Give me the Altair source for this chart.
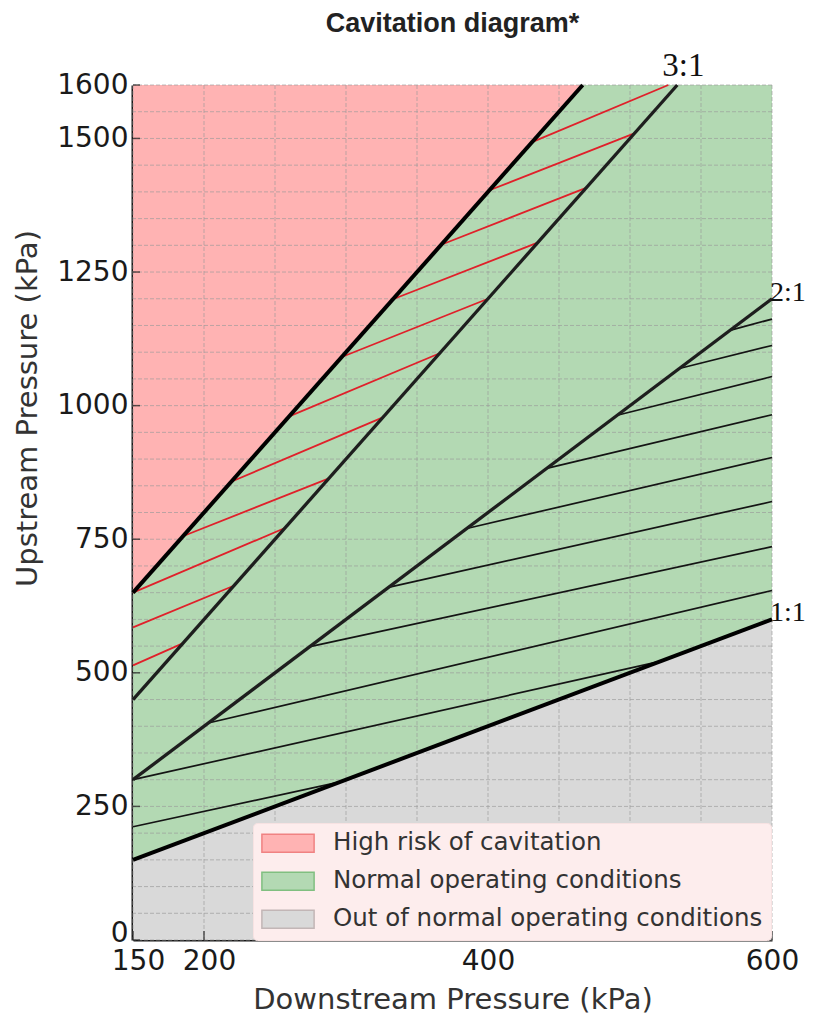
import altair as alt
import pandas as pd

# ---------------- data ----------------
x_domain = [150, 600]
y_domain = [0, 1600]

x_grid = list(range(150, 601, 50))
y_grid = list(range(0, 1601, 50))
x_labels = [150, 200, 400, 600]
x_minor = [v for v in x_grid if v not in x_labels]
y_labels = [0, 250, 500, 750, 1000, 1250, 1500, 1600]

region_names = ["High risk of cavitation", "Normal operating conditions",
                "Out of normal operating conditions"]
region_fill = ["#ffb3b3", "#b3d9b3", "#d9d9d9"]
legend_edge = ["#f08282", "#80bf80", "#c2b6b6"]

# region polygons (x, lower y, upper y)
red_x = [150, 466.7]
red_lo = [650, 1600]
red_hi = [1600, 1600]
green_x = [150, 466.7, 600]
green_lo = [150, 466.7, 600]
green_hi = [650, 1600, 1600]
gray_x = [150, 600]
gray_lo = [0, 0]
gray_hi = [150, 600]

# heavy black boundaries: cavitation limit, 1:1
bound_x0 = [150, 150]
bound_y0 = [650, 150]
bound_x1 = [466.7, 600]
bound_y1 = [1600, 600]

# ratio lines 3:1, 2:1
ratio_x0 = [150, 150]
ratio_y0 = [450, 300]
ratio_x1 = [533.3, 600]
ratio_y1 = [1600, 1200]

# red hatch lines
red_hx0 = [150, 150, 150, 185.5, 219.5, 260, 297, 333, 367, 401, 431]
red_hy0 = [514, 585, 650, 756, 858, 980, 1091, 1199, 1301, 1403, 1493]
red_hx1 = [185, 221, 257, 288, 326, 366, 400, 435, 469.5, 503.5, 527]
red_hy1 = [555, 663, 771, 864, 978, 1098, 1200, 1305, 1408, 1510, 1600]

# black hatch lines
blk_hx0 = [150, 150, 203, 274.6, 329.8, 385, 441.3, 491, 534.7, 570.4]
blk_hy0 = [212, 300, 406, 549, 660, 770, 882.6, 982, 1069.4, 1140.8]
blk_hx1 = [296, 522, 600, 600, 600, 600, 600, 600, 600, 600]
blk_hy1 = [296, 522, 654, 736, 820.5, 903, 983, 1054.5, 1112.5, 1162]

ratio_top_label = ["3:1"]
ratio_top_x = [533.3]
ratio_top_y = [1600]
ratio_side_label = ["2:1", "1:1"]
ratio_side_x = [600, 600]
ratio_side_y = [1200, 600]

# ---------------- tables ----------------
areas = pd.concat([
    pd.DataFrame({"x": red_x, "lo": red_lo, "hi": red_hi, "region": region_names[0]}),
    pd.DataFrame({"x": green_x, "lo": green_lo, "hi": green_hi, "region": region_names[1]}),
    pd.DataFrame({"x": gray_x, "lo": gray_lo, "hi": gray_hi, "region": region_names[2]}),
], ignore_index=True)

def seg(x0, y0, x1, y1):
    return pd.DataFrame({"x0": x0, "y0": y0, "x1": x1, "y1": y1})

xs = alt.Scale(domain=x_domain, nice=False, zero=False)
ys = alt.Scale(domain=y_domain, nice=False, zero=False)

label_expr = "indexof([" + ",".join(str(v) for v in x_labels) + "], datum.value) >= 0 ? datum.label : ''"

x_axis = alt.Axis(values=x_grid, labelExpr=label_expr, ticks=False, grid=False,
                  domainColor="#1a1a1a", domainWidth=2, labelFont="DejaVu Sans",
                  labelFontSize=28, labelColor="#1a1a1a", labelPadding=7,
                  labelOffset={"condition": {"test": "datum.value < 300", "value": 5}, "value": 0},
                  labelOverlap=False, labelFlush=False,
                  title="Downstream Pressure (kPa)", titleFont="DejaVu Sans",
                  titleFontSize=29, titleFontWeight="normal", titleColor="#333333",
                  titleBaseline="alphabetic", titleY=68)
y_axis = alt.Axis(values=y_labels, format="d", ticks=False, grid=False,
                  domainColor="#1a1a1a", domainWidth=4, labelFont="DejaVu Sans",
                  labelFontSize=28, labelColor="#1a1a1a", labelPadding=5,
                  labelOffset={"condition": {"test": "datum.value == 0", "value": -7}, "value": 0},
                  labelOverlap=False, labelFlush=False,
                  title="Upstream Pressure (kPa)", titleFont="DejaVu Sans",
                  titleFontSize=29, titleFontWeight="normal", titleColor="#333333",
                  titleBaseline="alphabetic", titleX=-97, titleY=323, titleAngle=270)

fill_scale = alt.Scale(domain=region_names, range=region_fill)
edge_scale = alt.Scale(domain=region_names, range=legend_edge)

legend = alt.Legend(title=None, orient="none", legendX=120, legendY=738,
                    fillColor="#fdeded", strokeColor="#f7e2e2", cornerRadius=4,
                    padding=8, rowPadding=12,
                    labelFont="DejaVu Sans", labelFontSize=24.5, labelColor="#333333",
                    labelLimit=600,
                    symbolType="M-2.9,-1H2.9V1H-2.9Z", symbolSize=324,
                    symbolStrokeWidth=1.5, symbolOffset=14.75, labelOffset=32.75, zindex=1)

legend_layer = alt.Chart(areas).transform_filter("false").mark_square(
    filled=True, strokeWidth=1.5, opacity=1).encode(
    x=alt.X("x:Q", scale=xs, axis=x_axis),
    y=alt.Y("lo:Q", scale=ys, axis=y_axis),
    fill=alt.Fill("region:N", scale=fill_scale, legend=legend),
    stroke=alt.Stroke("region:N", scale=edge_scale, legend=legend),
)

area_layer = alt.Chart(areas).mark_area(opacity=1).encode(
    x="x:Q",
    y="lo:Q",
    y2="hi:Q",
    fill=alt.Fill("region:N", scale=fill_scale, legend=legend),
    detail="region:N",
)

gx = alt.Chart(pd.DataFrame({"v": x_grid})).mark_rule(
    color="#9a9a9a", strokeWidth=1, strokeDash=[4, 2], opacity=0.65).encode(x="v:Q")
gy = alt.Chart(pd.DataFrame({"v": y_grid})).mark_rule(
    color="#9a9a9a", strokeWidth=1, strokeDash=[4, 2], opacity=0.65).encode(y="v:Q")

tx_major = alt.Chart(pd.DataFrame({"v": x_labels, "b": 0})).mark_tick(
    orient="vertical", size=9, thickness=1.5, yOffset=-4.5, color="#1a1a1a").encode(
    x="v:Q", y="b:Q")
tx_minor = alt.Chart(pd.DataFrame({"v": x_minor, "b": 0})).mark_tick(
    orient="vertical", size=5, thickness=1.2, yOffset=-2.5, color="#1a1a1a").encode(
    x="v:Q", y="b:Q")
ty = alt.Chart(pd.DataFrame({"v": y_labels, "b": 150})).mark_tick(
    orient="horizontal", size=7, thickness=1.5, xOffset=3.5, color="#1a1a1a").encode(
    y="v:Q", x="b:Q")

def seg_layer(df, color, width):
    return alt.Chart(df).mark_rule(color=color, strokeWidth=width, strokeCap="butt").encode(
        x="x0:Q", y="y0:Q", x2="x1:Q", y2="y1:Q")

red_h = seg_layer(seg(red_hx0, red_hy0, red_hx1, red_hy1), "#e0202a", 1.8)
blk_h = seg_layer(seg(blk_hx0, blk_hy0, blk_hx1, blk_hy1), "#141414", 1.7)
ratio_l = seg_layer(seg(ratio_x0, ratio_y0, ratio_x1, ratio_y1), "#1e1e1e", 3.3)
bound_l = seg_layer(seg(bound_x0, bound_y0, bound_x1, bound_y1), "#000000", 4)

top_lab = alt.Chart(pd.DataFrame({"t": ratio_top_label, "x": ratio_top_x, "y": ratio_top_y})).mark_text(
    font="Liberation Serif", fontSize=33, color="#111111", align="center", baseline="alphabetic",
    dx=6, dy=-9).encode(x="x:Q", y="y:Q", text="t:N")
side_lab = alt.Chart(pd.DataFrame({"t": ratio_side_label, "x": ratio_side_x, "y": ratio_side_y})).mark_text(
    font="Liberation Serif", fontSize=28, color="#111111", align="left", baseline="alphabetic",
    dx=-2, dy=2).encode(x="x:Q", y="y:Q", text="t:N")

chart = alt.layer(
    legend_layer, area_layer, gx, gy, blk_h, red_h, ratio_l, bound_l,
    tx_major, tx_minor, ty, top_lab, side_lab
).properties(
    width=639, height=855,
    autosize=alt.AutoSizeParams(type="none"),
    padding={"left": 125, "top": 77, "right": 34, "bottom": 75},
    title=alt.TitleParams("Cavitation diagram*", font="Liberation Sans", fontSize=27,
                          fontWeight="bold", color="#222222", anchor="middle",
                          frame="group", offset=12),
).configure_view(stroke=None)

chart.save("out.html", embed_options={"renderer": "svg", "actions": False})
